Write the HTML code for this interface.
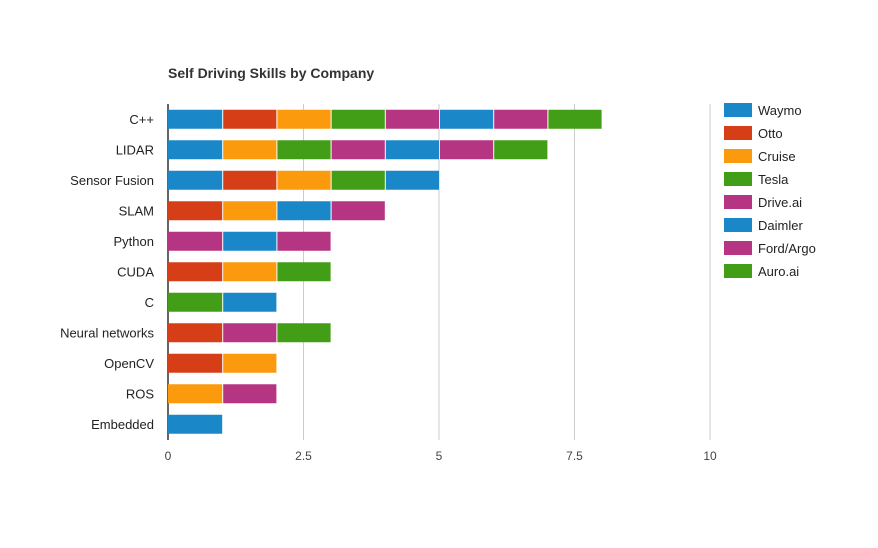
<!DOCTYPE html>
<html><head><meta charset="utf-8"><style>
body{margin:0;background:#fff;}
svg text{font-family:"Liberation Sans",Arial,sans-serif;}
</style></head><body>
<svg id="chart" width="878" height="543">
<text x="168" y="78" font-size="14" font-weight="bold" fill="#333">Self Driving Skills by Company</text>
<g id="grid"></g><g id="bars"></g><g id="ylabels"></g><g id="xticks"></g><g id="legend"></g>
</svg>
<script>
const companies=["Waymo","Otto","Cruise","Tesla","Drive.ai","Daimler","Ford/Argo","Auro.ai"];
const colors=["#1a88c8","#d63e17","#fb9a0d","#429e16","#b53583","#1a88c8","#b53583","#429e16"];
const skills=["C++","LIDAR","Sensor Fusion","SLAM","Python","CUDA","C","Neural networks","OpenCV","ROS","Embedded"];
// values per company per skill (order of skills)
const waymo   =[1,1,1,0,0,0,0,0,0,0,1];
const otto    =[1,0,1,1,0,1,0,1,1,0,0];
const cruise  =[1,1,1,1,0,1,0,0,1,1,0];
const tesla   =[1,1,1,0,0,1,1,0,0,0,0];
const driveai =[1,1,0,0,1,0,0,0,0,0,0];
const daimler =[1,1,1,1,1,0,1,0,0,0,0];
const fordargo=[1,1,0,1,1,0,0,1,0,1,0];
const auroai  =[1,1,0,0,0,0,0,1,0,0,0];
const series=[waymo,otto,cruise,tesla,driveai,daimler,fordargo,auroai];
const xTicks=[0,2.5,5,7.5,10];
const xTickLabels=["0","2.5","5","7.5","10"];
const NS="http://www.w3.org/2000/svg";
const x0=168,x1=710,xMax=10,yTop=104,rowH=30.5,barH=19;
const xs=v=>x0+(x1-x0)*v/xMax;
const yc=i=>yTop+rowH*(i+0.5);
function mk(t,a,p){const e=document.createElementNS(NS,t);for(const k in a)e.setAttribute(k,a[k]);p.appendChild(e);return e;}
const grid=document.getElementById("grid"),bars=document.getElementById("bars"),yl=document.getElementById("ylabels"),xt=document.getElementById("xticks"),lg=document.getElementById("legend");
xTicks.forEach((t,i)=>{
 const l=mk("line",{x1:xs(t),x2:xs(t),y1:104,y2:440,stroke:i==0?"#333":"#cccccc","stroke-width":i==0?1.5:1},grid);
 
 
 const tx=mk("text",{x:xs(t),y:460,"font-size":12,fill:"#444","text-anchor":"middle"},xt);tx.textContent=xTickLabels[i];
 
 
});
skills.forEach((s,i)=>{
 const tx=mk("text",{x:154,y:yc(i)+4.5,"font-size":13,fill:"#222","text-anchor":"end"},yl);tx.textContent=s;
 
 
 let acc=0;
 series.forEach((ser,j)=>{
  const v=ser[i];if(!v)return;
  const r=mk("rect",{x:xs(acc)+(acc>0?1:0),y:yc(i)-barH/2,width:xs(acc+v)-xs(acc)-(acc>0?1:0),height:barH,fill:colors[j]},bars);
  
  
  acc+=v;
 });
});
companies.forEach((c,j)=>{
 const y=110+23*j;
 const r=mk("rect",{x:724,y:y-7,width:28,height:14,fill:colors[j]},lg);
 
 
 const t=mk("text",{x:758,y:y+5,"font-size":13,fill:"#222"},lg);t.textContent=c;
 
 
});
</script>
</body></html>
